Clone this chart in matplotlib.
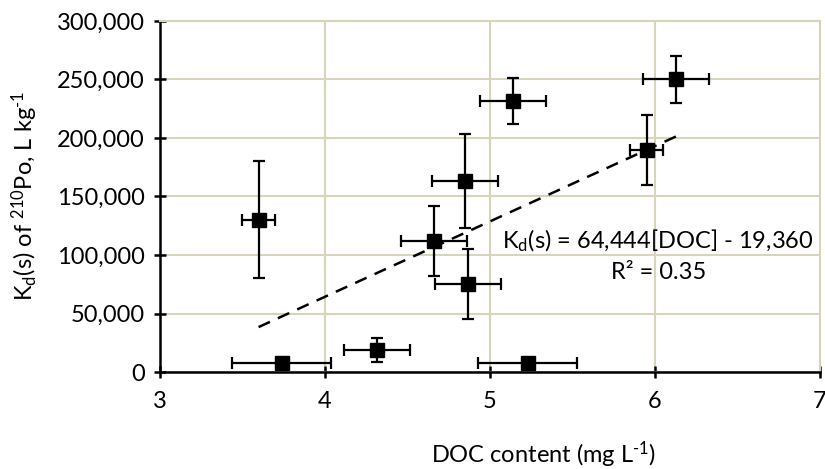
import numpy as np
import matplotlib
matplotlib.use("Agg")
import matplotlib.pyplot as plt
from matplotlib.ticker import FuncFormatter

plt.rcParams['font.family'] = ['Lato', 'DejaVu Sans']
plt.rcParams['mathtext.fontset'] = 'custom'
plt.rcParams['mathtext.rm'] = 'Lato'
plt.rcParams['mathtext.it'] = 'Lato'

# DOC content (mg/L) and Kd(s) of 210Po (L/kg), with error bars
doc = [3.60, 3.74, 4.32, 4.66, 4.85, 4.87, 5.14, 5.23, 5.95, 6.13]
doc_err = [0.10, 0.30, 0.20, 0.20, 0.20, 0.20, 0.20, 0.30, 0.10, 0.20]
kd = [130000, 7700, 18800, 112000, 163000, 75000, 231600, 7700, 190000, 250000]
kd_err = [50000, 1500, 10000, 30000, 40000, 30000, 20000, 1500, 30000, 20000]

# linear trend as drawn
trend_slope = 64444
trend_intercept = -193600

grid_col = '#d8d3bb'
fs = 17

fig = plt.figure(figsize=(8.25, 4.69), dpi=100)
ax = fig.add_axes([159.5 / 825, 1 - 372 / 469, (820 - 159.5) / 825, (372 - 21) / 469])

ax.errorbar(doc, kd, xerr=doc_err, yerr=kd_err, fmt='s', color='black',
            markersize=10, elinewidth=1.6, capsize=4.3, capthick=1.6, zorder=3)

xt = np.array([min(doc), max(doc)])
ax.plot(xt, trend_slope * xt + trend_intercept, color='black', lw=1.8,
        linestyle=(0, (5, 3.5)), zorder=2)

ax.set_xlim(3, 7)
ax.set_ylim(0, 300000)
ax.set_xticks([3, 4, 5, 6, 7])
ax.set_yticks(np.arange(0, 300001, 50000))
ax.yaxis.set_major_formatter(FuncFormatter(lambda v, p: f"{int(v):,}"))
ax.grid(True, color=grid_col, lw=1.5, zorder=0)
ax.set_axisbelow(True)

for s in ['top', 'right']:
    ax.spines[s].set_color(grid_col)
    ax.spines[s].set_linewidth(1.5)
for s in ['left', 'bottom']:
    ax.spines[s].set_color('black')
    ax.spines[s].set_linewidth(1.8)

ax.tick_params(direction='inout', length=9, width=1.8, labelsize=fs, colors='black')
ax.tick_params(axis='x', pad=9)
ax.tick_params(axis='y', pad=6)

ax.text(6.02, 112000, r'K$_\mathregular{d}$(s) = 64,444[DOC] - 19,360', fontsize=fs,
        ha='center', va='center')
ax.text(6.02, 85000, r'R² = 0.35', fontsize=fs, ha='center', va='center')

fig.text(25 / 825, 1 - 196 / 469,
         r'K$_\mathregular{d}$(s) of $^\mathregular{210}$Po, L kg$^\mathregular{\text{-}1}$',
         rotation=90, fontsize=fs, ha='center', va='center')
fig.text(544 / 825, 1 - 455 / 469, r'DOC content (mg L$^\mathregular{\text{-}1}$)',
         fontsize=fs, ha='center', va='center')

fig.savefig('out.png', dpi=100)
